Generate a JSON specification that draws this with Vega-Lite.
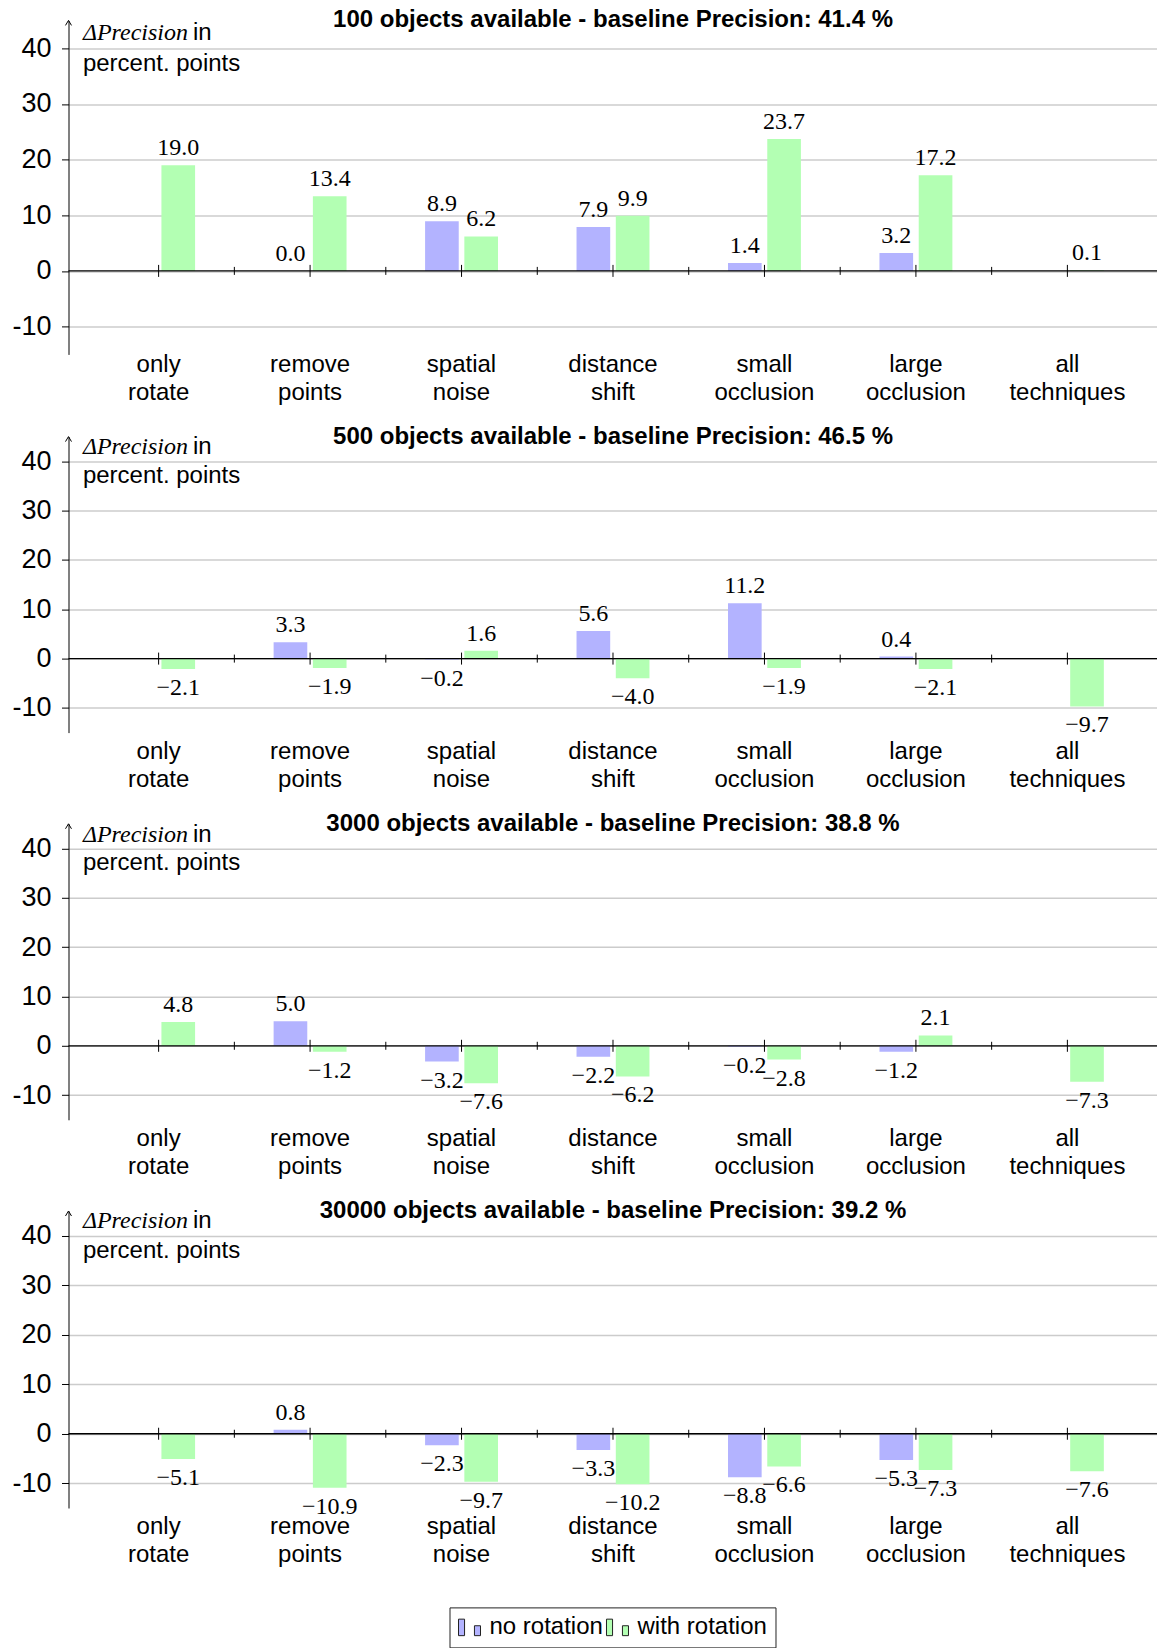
{
  "$schema": "https://vega.github.io/schema/vega-lite/v6.json",
  "padding": {"left": 11.5, "top": 8.4, "right": 0, "bottom": 0},
  "spacing": 20.2,
  "datasets": {
    "d": [
      {"p": 100, "c": "only rotate", "r": "with rotation", "v": 19.0},
      {"p": 100, "c": "remove points", "r": "no rotation", "v": 0.0},
      {"p": 100, "c": "remove points", "r": "with rotation", "v": 13.4},
      {"p": 100, "c": "spatial noise", "r": "no rotation", "v": 8.9},
      {"p": 100, "c": "spatial noise", "r": "with rotation", "v": 6.2},
      {"p": 100, "c": "distance shift", "r": "no rotation", "v": 7.9},
      {"p": 100, "c": "distance shift", "r": "with rotation", "v": 9.9},
      {"p": 100, "c": "small occlusion", "r": "no rotation", "v": 1.4},
      {"p": 100, "c": "small occlusion", "r": "with rotation", "v": 23.7},
      {"p": 100, "c": "large occlusion", "r": "no rotation", "v": 3.2},
      {"p": 100, "c": "large occlusion", "r": "with rotation", "v": 17.2},
      {"p": 100, "c": "all techniques", "r": "with rotation", "v": 0.1},
      {"p": 500, "c": "only rotate", "r": "with rotation", "v": -2.1},
      {"p": 500, "c": "remove points", "r": "no rotation", "v": 3.3},
      {"p": 500, "c": "remove points", "r": "with rotation", "v": -1.9},
      {"p": 500, "c": "spatial noise", "r": "no rotation", "v": -0.2},
      {"p": 500, "c": "spatial noise", "r": "with rotation", "v": 1.6},
      {"p": 500, "c": "distance shift", "r": "no rotation", "v": 5.6},
      {"p": 500, "c": "distance shift", "r": "with rotation", "v": -4.0},
      {"p": 500, "c": "small occlusion", "r": "no rotation", "v": 11.2},
      {"p": 500, "c": "small occlusion", "r": "with rotation", "v": -1.9},
      {"p": 500, "c": "large occlusion", "r": "no rotation", "v": 0.4},
      {"p": 500, "c": "large occlusion", "r": "with rotation", "v": -2.1},
      {"p": 500, "c": "all techniques", "r": "with rotation", "v": -9.7},
      {"p": 3000, "c": "only rotate", "r": "with rotation", "v": 4.8},
      {"p": 3000, "c": "remove points", "r": "no rotation", "v": 5.0},
      {"p": 3000, "c": "remove points", "r": "with rotation", "v": -1.2},
      {"p": 3000, "c": "spatial noise", "r": "no rotation", "v": -3.2},
      {"p": 3000, "c": "spatial noise", "r": "with rotation", "v": -7.6},
      {"p": 3000, "c": "distance shift", "r": "no rotation", "v": -2.2},
      {"p": 3000, "c": "distance shift", "r": "with rotation", "v": -6.2},
      {"p": 3000, "c": "small occlusion", "r": "no rotation", "v": -0.2},
      {"p": 3000, "c": "small occlusion", "r": "with rotation", "v": -2.8},
      {"p": 3000, "c": "large occlusion", "r": "no rotation", "v": -1.2},
      {"p": 3000, "c": "large occlusion", "r": "with rotation", "v": 2.1},
      {"p": 3000, "c": "all techniques", "r": "with rotation", "v": -7.3},
      {"p": 30000, "c": "only rotate", "r": "with rotation", "v": -5.1},
      {"p": 30000, "c": "remove points", "r": "no rotation", "v": 0.8},
      {"p": 30000, "c": "remove points", "r": "with rotation", "v": -10.9},
      {"p": 30000, "c": "spatial noise", "r": "no rotation", "v": -2.3},
      {"p": 30000, "c": "spatial noise", "r": "with rotation", "v": -9.7},
      {"p": 30000, "c": "distance shift", "r": "no rotation", "v": -3.3},
      {"p": 30000, "c": "distance shift", "r": "with rotation", "v": -10.2},
      {"p": 30000, "c": "small occlusion", "r": "no rotation", "v": -8.8},
      {"p": 30000, "c": "small occlusion", "r": "with rotation", "v": -6.6},
      {"p": 30000, "c": "large occlusion", "r": "no rotation", "v": -5.3},
      {"p": 30000, "c": "large occlusion", "r": "with rotation", "v": -7.3},
      {"p": 30000, "c": "all techniques", "r": "with rotation", "v": -7.6}
    ],
    "cats": [
      {"c": "only rotate"}, {"c": "remove points"}, {"c": "spatial noise"}, {"c": "distance shift"},
      {"c": "small occlusion"}, {"c": "large occlusion"}, {"c": "all techniques"}
    ]
  },
  "config": {
    "view": {"stroke": null},
    "title": {"font": "Liberation Sans", "fontSize": 24, "fontWeight": "bold", "color": "#000", "anchor": "middle", "frame": "group", "baseline": "middle", "offset": -14},
    "axisX": {"title": null, "domain": false, "ticks": false, "tickSize": 0, "grid": false, "labelAngle": 0, "labelFont": "Liberation Sans", "labelFontSize": 24, "labelLineHeight": 28, "labelColor": "#000"},
    "axisY": {"title": null, "grid": true, "gridColor": "#cccccc", "gridWidth": 1.5, "domainColor": "#000", "domainWidth": 1, "tickColor": "#000", "labelFont": "Liberation Sans", "labelFontSize": 27, "labelPadding": 10.5, "labelColor": "#000"}
  },
  "vconcat": [
    {
      "width": 1089, "height": 334,
      "title": {"text": "100 objects available - baseline Precision: 41.4 %"},
      "layer": [
        {
          "data": {"name": "d"},
          "transform": [{"filter": "datum.p === 100"}],
          "encoding": {
            "x": {"field": "c", "type": "nominal", "sort": ["only rotate","remove points","spatial noise","distance shift","small occlusion","large occlusion","all techniques"],
              "scale": {"domain": ["only rotate","remove points","spatial noise","distance shift","small occlusion","large occlusion","all techniques"], "paddingInner": 0, "paddingOuter": 0.095},
              "axis": {"title": null, "labelExpr": "split(datum.label, ' ')", "labelPadding": -2}},
            "xOffset": {"field": "r", "type": "nominal", "sort": ["no rotation","with rotation"], "scale": {"domain": ["no rotation","with rotation"], "paddingInner": 0.143, "paddingOuter": 1.235}},
            "y": {"field": "v", "type": "quantitative", "scale": {"domain": [-15, 45], "nice": false, "zero": false},
              "axis": {"title": null, "values": [-10,-5,0,5,10,15,20,25,30,35,40], "labelExpr": "datum.value % 10 === 0 ? '' + datum.value : ''",
                "tickSize": {"condition": {"test": "datum.value % 10 === 0", "value": 7}, "value": 4}}}
          },
          "layer": [
            {"mark": {"type": "bar"}, "encoding": {"color": {"field": "r", "type": "nominal", "scale": {"domain": ["no rotation","with rotation"], "range": ["#b3b3ff","#b3ffb3"]},
              "legend": {"orient": "none", "legendX": 381, "legendY": 1587, "direction": "horizontal", "title": null, "strokeColor": "#222", "padding": 8,
                "labelFont": "Liberation Sans", "labelFontSize": 24, "labelColor": "#000", "labelOffset": 8, "columnPadding": 1,
                "symbolType": "M-1,-0.75H-0.45V0.75H-1Z M0.45,-0.15H1V0.75H0.45Z", "symbolSize": 484,
                "symbolStrokeColor": "#222", "symbolStrokeWidth": 1, "symbolOpacity": 1,
                "encode": {"symbols": {"update": {"size": {"value": 484}, "shape": {"value": "M-1,-0.75H-0.45V0.75H-1Z M0.45,-0.15H1V0.75H0.45Z"}, "stroke": {"value": "#222"}, "strokeWidth": {"value": 1}}}}}}}},
            {"transform": [{"filter": "datum.v >= 0"}], "mark": {"type": "text", "font": "Liberation Serif", "fontSize": 24, "fill": "#000", "baseline": "middle", "dy": -17}, "encoding": {"text": {"field": "v", "type": "quantitative", "format": ".1f"}}},
            {"transform": [{"filter": "datum.v < 0"}], "mark": {"type": "text", "font": "Liberation Serif", "fontSize": 24, "fill": "#000", "baseline": "middle", "dy": 19}, "encoding": {"text": {"field": "v", "type": "quantitative", "format": ".1f"}}}
          ]
        },
        {"data": {"values": [{}]}, "mark": {"type": "rule", "color": "#000", "strokeWidth": 1.3}, "encoding": {"y": {"datum": 0, "type": "quantitative"}}},
        {"data": {"name": "cats"}, "mark": {"type": "point", "shape": "M0,-6L0,6", "size": 4, "filled": false, "stroke": "#000", "strokeWidth": 1, "opacity": 1},
          "encoding": {"x": {"field": "c", "type": "nominal"}, "y": {"datum": 0, "type": "quantitative"}}},
        {"data": {"name": "cats"}, "transform": [{"filter": "datum.c !== 'only rotate'"}], "mark": {"type": "point", "shape": "M0,-4L0,4", "size": 4, "filled": false, "stroke": "#000", "strokeWidth": 1, "opacity": 1},
          "encoding": {"x": {"field": "c", "type": "nominal", "bandPosition": 0}, "y": {"datum": 0, "type": "quantitative"}}},
        {"data": {"values": [{}]}, "mark": {"type": "point", "shape": "M-17.4,5L-14.4,0L-11.4,5", "size": 4, "filled": false, "stroke": "#000", "strokeWidth": 1, "opacity": 1},
          "encoding": {"x": {"datum": "only rotate", "type": "nominal", "bandPosition": 0}, "y": {"datum": 45, "type": "quantitative"}}},
        {"data": {"values": [{}]}, "mark": {"type": "text", "text": "ΔPrecision", "font": "Liberation Serif", "fontStyle": "italic", "fontSize": 24, "fill": "#000", "align": "left", "baseline": "middle"},
          "encoding": {"x": {"datum": "only rotate", "type": "nominal", "bandPosition": 0}, "y": {"datum": 42.7, "type": "quantitative"}}},
        {"data": {"values": [{}]}, "mark": {"type": "text", "text": "in", "font": "Liberation Sans", "fontSize": 24, "fill": "#000", "align": "left", "baseline": "middle", "dx": 110},
          "encoding": {"x": {"datum": "only rotate", "type": "nominal", "bandPosition": 0}, "y": {"datum": 42.7, "type": "quantitative"}}},
        {"data": {"values": [{}]}, "mark": {"type": "text", "text": "percent. points", "font": "Liberation Sans", "fontSize": 24, "fill": "#000", "align": "left", "baseline": "middle"},
          "encoding": {"x": {"datum": "only rotate", "type": "nominal", "bandPosition": 0}, "y": {"datum": 37.2, "type": "quantitative"}}}
      ]
    },
    {
      "width": 1089, "height": 296,
      "title": {"text": "500 objects available - baseline Precision: 46.5 %"},
      "layer": [
        {
          "data": {"name": "d"},
          "transform": [{"filter": "datum.p === 500"}],
          "encoding": {
            "x": {"field": "c", "type": "nominal", "sort": ["only rotate","remove points","spatial noise","distance shift","small occlusion","large occlusion","all techniques"],
              "scale": {"domain": ["only rotate","remove points","spatial noise","distance shift","small occlusion","large occlusion","all techniques"], "paddingInner": 0, "paddingOuter": 0.095},
              "axis": {"title": null, "labelExpr": "split(datum.label, ' ')", "labelPadding": 6.5}},
            "xOffset": {"field": "r", "type": "nominal", "sort": ["no rotation","with rotation"], "scale": {"domain": ["no rotation","with rotation"], "paddingInner": 0.143, "paddingOuter": 1.235}},
            "y": {"field": "v", "type": "quantitative", "scale": {"domain": [-15, 45], "nice": false, "zero": false},
              "axis": {"title": null, "values": [-10,-5,0,5,10,15,20,25,30,35,40], "labelExpr": "datum.value % 10 === 0 ? '' + datum.value : ''",
                "tickSize": {"condition": {"test": "datum.value % 10 === 0", "value": 7}, "value": 4}}}
          },
          "layer": [
            {"mark": {"type": "bar"}, "encoding": {"color": {"field": "r", "type": "nominal", "scale": {"domain": ["no rotation","with rotation"], "range": ["#b3b3ff","#b3ffb3"]}}}},
            {"transform": [{"filter": "datum.v >= 0"}], "mark": {"type": "text", "font": "Liberation Serif", "fontSize": 24, "fill": "#000", "baseline": "middle", "dy": -17}, "encoding": {"text": {"field": "v", "type": "quantitative", "format": ".1f"}}},
            {"transform": [{"filter": "datum.v < 0"}], "mark": {"type": "text", "font": "Liberation Serif", "fontSize": 24, "fill": "#000", "baseline": "middle", "dy": 19}, "encoding": {"text": {"field": "v", "type": "quantitative", "format": ".1f"}}}
          ]
        },
        {"data": {"values": [{}]}, "mark": {"type": "rule", "color": "#000", "strokeWidth": 1.3}, "encoding": {"y": {"datum": 0, "type": "quantitative"}}},
        {"data": {"name": "cats"}, "mark": {"type": "point", "shape": "M0,-6L0,6", "size": 4, "filled": false, "stroke": "#000", "strokeWidth": 1, "opacity": 1},
          "encoding": {"x": {"field": "c", "type": "nominal"}, "y": {"datum": 0, "type": "quantitative"}}},
        {"data": {"name": "cats"}, "transform": [{"filter": "datum.c !== 'only rotate'"}], "mark": {"type": "point", "shape": "M0,-4L0,4", "size": 4, "filled": false, "stroke": "#000", "strokeWidth": 1, "opacity": 1},
          "encoding": {"x": {"field": "c", "type": "nominal", "bandPosition": 0}, "y": {"datum": 0, "type": "quantitative"}}},
        {"data": {"values": [{}]}, "mark": {"type": "point", "shape": "M-17.4,5L-14.4,0L-11.4,5", "size": 4, "filled": false, "stroke": "#000", "strokeWidth": 1, "opacity": 1},
          "encoding": {"x": {"datum": "only rotate", "type": "nominal", "bandPosition": 0}, "y": {"datum": 45, "type": "quantitative"}}},
        {"data": {"values": [{}]}, "mark": {"type": "text", "text": "ΔPrecision", "font": "Liberation Serif", "fontStyle": "italic", "fontSize": 24, "fill": "#000", "align": "left", "baseline": "middle"},
          "encoding": {"x": {"datum": "only rotate", "type": "nominal", "bandPosition": 0}, "y": {"datum": 42.8, "type": "quantitative"}}},
        {"data": {"values": [{}]}, "mark": {"type": "text", "text": "in", "font": "Liberation Sans", "fontSize": 24, "fill": "#000", "align": "left", "baseline": "middle", "dx": 110},
          "encoding": {"x": {"datum": "only rotate", "type": "nominal", "bandPosition": 0}, "y": {"datum": 42.8, "type": "quantitative"}}},
        {"data": {"values": [{}]}, "mark": {"type": "text", "text": "percent. points", "font": "Liberation Sans", "fontSize": 24, "fill": "#000", "align": "left", "baseline": "middle"},
          "encoding": {"x": {"datum": "only rotate", "type": "nominal", "bandPosition": 0}, "y": {"datum": 37.1, "type": "quantitative"}}}
      ]
    },
    {
      "width": 1089, "height": 296,
      "title": {"text": "3000 objects available - baseline Precision: 38.8 %"},
      "layer": [
        {
          "data": {"name": "d"},
          "transform": [{"filter": "datum.p === 3000"}],
          "encoding": {
            "x": {"field": "c", "type": "nominal", "sort": ["only rotate","remove points","spatial noise","distance shift","small occlusion","large occlusion","all techniques"],
              "scale": {"domain": ["only rotate","remove points","spatial noise","distance shift","small occlusion","large occlusion","all techniques"], "paddingInner": 0, "paddingOuter": 0.095},
              "axis": {"title": null, "labelExpr": "split(datum.label, ' ')", "labelPadding": 6.5}},
            "xOffset": {"field": "r", "type": "nominal", "sort": ["no rotation","with rotation"], "scale": {"domain": ["no rotation","with rotation"], "paddingInner": 0.143, "paddingOuter": 1.235}},
            "y": {"field": "v", "type": "quantitative", "scale": {"domain": [-15, 45], "nice": false, "zero": false},
              "axis": {"title": null, "values": [-10,-5,0,5,10,15,20,25,30,35,40], "labelExpr": "datum.value % 10 === 0 ? '' + datum.value : ''",
                "tickSize": {"condition": {"test": "datum.value % 10 === 0", "value": 7}, "value": 4}}}
          },
          "layer": [
            {"mark": {"type": "bar"}, "encoding": {"color": {"field": "r", "type": "nominal", "scale": {"domain": ["no rotation","with rotation"], "range": ["#b3b3ff","#b3ffb3"]}}}},
            {"transform": [{"filter": "datum.v >= 0"}], "mark": {"type": "text", "font": "Liberation Serif", "fontSize": 24, "fill": "#000", "baseline": "middle", "dy": -17}, "encoding": {"text": {"field": "v", "type": "quantitative", "format": ".1f"}}},
            {"transform": [{"filter": "datum.v < 0"}], "mark": {"type": "text", "font": "Liberation Serif", "fontSize": 24, "fill": "#000", "baseline": "middle", "dy": 19}, "encoding": {"text": {"field": "v", "type": "quantitative", "format": ".1f"}}}
          ]
        },
        {"data": {"values": [{}]}, "mark": {"type": "rule", "color": "#000", "strokeWidth": 1.3}, "encoding": {"y": {"datum": 0, "type": "quantitative"}}},
        {"data": {"name": "cats"}, "mark": {"type": "point", "shape": "M0,-6L0,6", "size": 4, "filled": false, "stroke": "#000", "strokeWidth": 1, "opacity": 1},
          "encoding": {"x": {"field": "c", "type": "nominal"}, "y": {"datum": 0, "type": "quantitative"}}},
        {"data": {"name": "cats"}, "transform": [{"filter": "datum.c !== 'only rotate'"}], "mark": {"type": "point", "shape": "M0,-4L0,4", "size": 4, "filled": false, "stroke": "#000", "strokeWidth": 1, "opacity": 1},
          "encoding": {"x": {"field": "c", "type": "nominal", "bandPosition": 0}, "y": {"datum": 0, "type": "quantitative"}}},
        {"data": {"values": [{}]}, "mark": {"type": "point", "shape": "M-17.4,5L-14.4,0L-11.4,5", "size": 4, "filled": false, "stroke": "#000", "strokeWidth": 1, "opacity": 1},
          "encoding": {"x": {"datum": "only rotate", "type": "nominal", "bandPosition": 0}, "y": {"datum": 45, "type": "quantitative"}}},
        {"data": {"values": [{}]}, "mark": {"type": "text", "text": "ΔPrecision", "font": "Liberation Serif", "fontStyle": "italic", "fontSize": 24, "fill": "#000", "align": "left", "baseline": "middle"},
          "encoding": {"x": {"datum": "only rotate", "type": "nominal", "bandPosition": 0}, "y": {"datum": 42.8, "type": "quantitative"}}},
        {"data": {"values": [{}]}, "mark": {"type": "text", "text": "in", "font": "Liberation Sans", "fontSize": 24, "fill": "#000", "align": "left", "baseline": "middle", "dx": 110},
          "encoding": {"x": {"datum": "only rotate", "type": "nominal", "bandPosition": 0}, "y": {"datum": 42.8, "type": "quantitative"}}},
        {"data": {"values": [{}]}, "mark": {"type": "text", "text": "percent. points", "font": "Liberation Sans", "fontSize": 24, "fill": "#000", "align": "left", "baseline": "middle"},
          "encoding": {"x": {"datum": "only rotate", "type": "nominal", "bandPosition": 0}, "y": {"datum": 37.1, "type": "quantitative"}}}
      ]
    },
    {
      "width": 1089, "height": 297,
      "title": {"text": "30000 objects available - baseline Precision: 39.2 %"},
      "layer": [
        {
          "data": {"name": "d"},
          "transform": [{"filter": "datum.p === 30000"}],
          "encoding": {
            "x": {"field": "c", "type": "nominal", "sort": ["only rotate","remove points","spatial noise","distance shift","small occlusion","large occlusion","all techniques"],
              "scale": {"domain": ["only rotate","remove points","spatial noise","distance shift","small occlusion","large occlusion","all techniques"], "paddingInner": 0, "paddingOuter": 0.095},
              "axis": {"title": null, "labelExpr": "split(datum.label, ' ')", "labelPadding": 6.5}},
            "xOffset": {"field": "r", "type": "nominal", "sort": ["no rotation","with rotation"], "scale": {"domain": ["no rotation","with rotation"], "paddingInner": 0.143, "paddingOuter": 1.235}},
            "y": {"field": "v", "type": "quantitative", "scale": {"domain": [-15, 45], "nice": false, "zero": false},
              "axis": {"title": null, "values": [-10,-5,0,5,10,15,20,25,30,35,40], "labelExpr": "datum.value % 10 === 0 ? '' + datum.value : ''",
                "tickSize": {"condition": {"test": "datum.value % 10 === 0", "value": 7}, "value": 4}}}
          },
          "layer": [
            {"mark": {"type": "bar"}, "encoding": {"color": {"field": "r", "type": "nominal", "scale": {"domain": ["no rotation","with rotation"], "range": ["#b3b3ff","#b3ffb3"]}}}},
            {"transform": [{"filter": "datum.v >= 0"}], "mark": {"type": "text", "font": "Liberation Serif", "fontSize": 24, "fill": "#000", "baseline": "middle", "dy": -17}, "encoding": {"text": {"field": "v", "type": "quantitative", "format": ".1f"}}},
            {"transform": [{"filter": "datum.v < 0"}], "mark": {"type": "text", "font": "Liberation Serif", "fontSize": 24, "fill": "#000", "baseline": "middle", "dy": 19}, "encoding": {"text": {"field": "v", "type": "quantitative", "format": ".1f"}}}
          ]
        },
        {"data": {"values": [{}]}, "mark": {"type": "rule", "color": "#000", "strokeWidth": 1.3}, "encoding": {"y": {"datum": 0, "type": "quantitative"}}},
        {"data": {"name": "cats"}, "mark": {"type": "point", "shape": "M0,-6L0,6", "size": 4, "filled": false, "stroke": "#000", "strokeWidth": 1, "opacity": 1},
          "encoding": {"x": {"field": "c", "type": "nominal"}, "y": {"datum": 0, "type": "quantitative"}}},
        {"data": {"name": "cats"}, "transform": [{"filter": "datum.c !== 'only rotate'"}], "mark": {"type": "point", "shape": "M0,-4L0,4", "size": 4, "filled": false, "stroke": "#000", "strokeWidth": 1, "opacity": 1},
          "encoding": {"x": {"field": "c", "type": "nominal", "bandPosition": 0}, "y": {"datum": 0, "type": "quantitative"}}},
        {"data": {"values": [{}]}, "mark": {"type": "point", "shape": "M-17.4,5L-14.4,0L-11.4,5", "size": 4, "filled": false, "stroke": "#000", "strokeWidth": 1, "opacity": 1},
          "encoding": {"x": {"datum": "only rotate", "type": "nominal", "bandPosition": 0}, "y": {"datum": 45, "type": "quantitative"}}},
        {"data": {"values": [{}]}, "mark": {"type": "text", "text": "ΔPrecision", "font": "Liberation Serif", "fontStyle": "italic", "fontSize": 24, "fill": "#000", "align": "left", "baseline": "middle"},
          "encoding": {"x": {"datum": "only rotate", "type": "nominal", "bandPosition": 0}, "y": {"datum": 42.9, "type": "quantitative"}}},
        {"data": {"values": [{}]}, "mark": {"type": "text", "text": "in", "font": "Liberation Sans", "fontSize": 24, "fill": "#000", "align": "left", "baseline": "middle", "dx": 110},
          "encoding": {"x": {"datum": "only rotate", "type": "nominal", "bandPosition": 0}, "y": {"datum": 42.9, "type": "quantitative"}}},
        {"data": {"values": [{}]}, "mark": {"type": "text", "text": "percent. points", "font": "Liberation Sans", "fontSize": 24, "fill": "#000", "align": "left", "baseline": "middle"},
          "encoding": {"x": {"datum": "only rotate", "type": "nominal", "bandPosition": 0}, "y": {"datum": 37.0, "type": "quantitative"}}}
      ]
    }
  ]
}
